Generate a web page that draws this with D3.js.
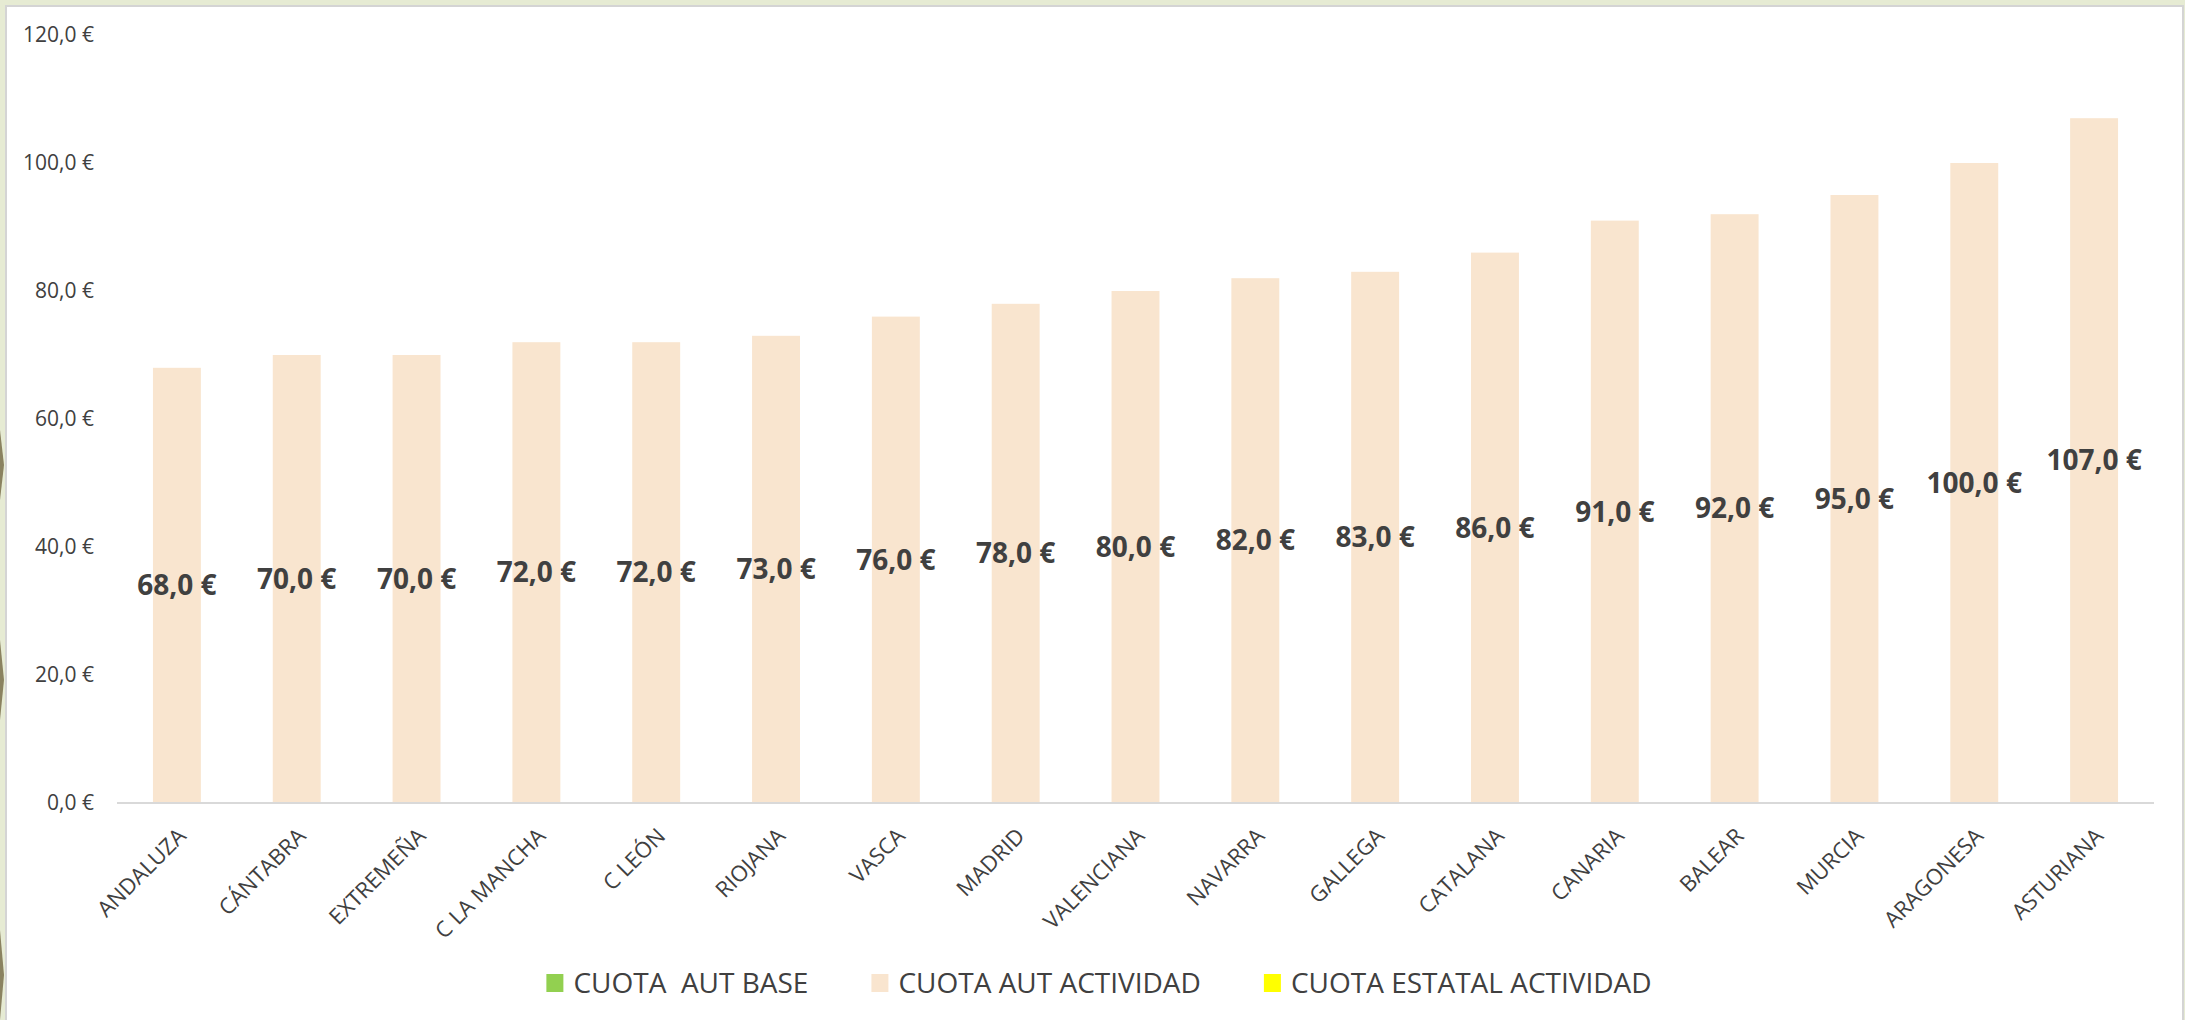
<!DOCTYPE html>
<html>
<head>
<meta charset="utf-8">
<script src="https://cdn.jsdelivr.net/npm/d3@7"></script>
<style>
  html, body { margin: 0; padding: 0; background: #e6ebd3; }
  svg { display: block; font-family: "Open Sans", sans-serif; }
</style>
</head>
<body>
<svg id="chart" width="2185" height="1020"></svg>
<script>
// ── Data ──────────────────────────────────────────────────────────────────────
const categories = ["ANDALUZA", "CÁNTABRA", "EXTREMEÑA", "C LA MANCHA", "C LEÓN", "RIOJANA",
  "VASCA", "MADRID", "VALENCIANA", "NAVARRA", "GALLEGA", "CATALANA", "CANARIA",
  "BALEAR", "MURCIA", "ARAGONESA", "ASTURIANA"];
const cuotaAutActividad = [68, 70, 70, 72, 72, 73, 76, 78, 80, 82, 83, 86, 91, 92, 95, 100, 107];
const yTicks = [0, 20, 40, 60, 80, 100, 120];
const legendItems = ["CUOTA  AUT BASE", "CUOTA AUT ACTIVIDAD", "CUOTA ESTATAL ACTIVIDAD"];
const legendColors = ["#92d050", "#f9e5cf", "#ffff00"];

const TEXT = "#404040";
const fmt = v => d3.format(".1f")(v).replace(".", ",") + " €";

const svg = d3.select("#chart");

// ── Frame ─────────────────────────────────────────────────────────────────────
svg.append("rect").attr("x", 0).attr("y", 0).attr("width", 2185).attr("height", 1020).attr("fill", "#e6ebd3");
// olive decoration peeking at the left edge
[[430, 500], [640, 720], [930, 1020]].forEach(([a, b]) => {
  svg.append("path")
    .attr("d", `M0,${a} L4,${(a + b) / 2} L0,${b} Z`)
    .attr("fill", "#8a8260");
});
svg.append("rect").attr("x", 6).attr("y", 6).attr("width", 2177).attr("height", 1030)
  .attr("fill", "#fff").attr("stroke", "#d4d4d4").attr("stroke-width", 2);

// ── Scales ────────────────────────────────────────────────────────────────────
const x = d3.scaleBand().domain(categories).range([117, 2154]).paddingInner(0.6).paddingOuter(0.3);
const y = d3.scaleLinear().domain([0, 120]).range([803, 35]);

// ── Y axis labels ─────────────────────────────────────────────────────────────
svg.append("g").selectAll("text").data(yTicks).join("text")
  .attr("x", 94).attr("y", d => y(d)).attr("dy", "0.35em")
  .attr("text-anchor", "end").attr("font-size", 21).attr("fill", TEXT)
  .text(fmt);

// ── Bars ──────────────────────────────────────────────────────────────────────
svg.append("g").selectAll("rect").data(cuotaAutActividad).join("rect")
  .attr("x", (d, i) => x(categories[i]))
  .attr("y", d => y(d))
  .attr("width", x.bandwidth())
  .attr("height", d => y(0) - y(d))
  .attr("fill", "#f9e5cf");

// baseline
svg.append("line").attr("x1", 117).attr("x2", 2154).attr("y1", y(0)).attr("y2", y(0))
  .attr("stroke", "#d9d9d9").attr("stroke-width", 2);

// ── Data labels ───────────────────────────────────────────────────────────────
svg.append("g").selectAll("text").data(cuotaAutActividad).join("text")
  .attr("x", (d, i) => x(categories[i]) + x.bandwidth() / 2)
  .attr("y", d => (y(d) + y(0)) / 2)
  .attr("dy", "0.35em")
  .attr("text-anchor", "middle").attr("font-size", 28).attr("font-weight", "bold")
  .attr("fill", TEXT)
  .text(fmt);

// ── X axis labels ─────────────────────────────────────────────────────────────
svg.append("g").selectAll("text").data(categories).join("text")
  .attr("transform", d => `translate(${x(d) + x.bandwidth() / 2 + 5},832) rotate(-45)`)
  .attr("dy", "0.35em")
  .attr("text-anchor", "end").attr("font-size", 22).attr("fill", TEXT)
  .text(d => d);

// ── Legend ────────────────────────────────────────────────────────────────────
const legend = svg.append("g");
const items = legend.selectAll("g").data(legendItems).join("g");
items.append("rect").attr("x", 0).attr("y", -9).attr("width", 17).attr("height", 18)
  .attr("fill", (d, i) => legendColors[i]);
items.append("text").attr("x", 27).attr("dy", "0.35em")
  .attr("font-size", 28).attr("fill", TEXT)
  .style("white-space", "pre")
  .text(d => d);

let cx = 0;
const pos = [];
items.each(function () {
  pos.push(cx);
  const w = d3.select(this).select("text").node().getComputedTextLength();
  cx += 27 + w + 63;
});
const total = cx - 63;
const start = 1099 - total / 2;
items.attr("transform", (d, i) => `translate(${start + pos[i]},983)`);
</script>
</body>
</html>
